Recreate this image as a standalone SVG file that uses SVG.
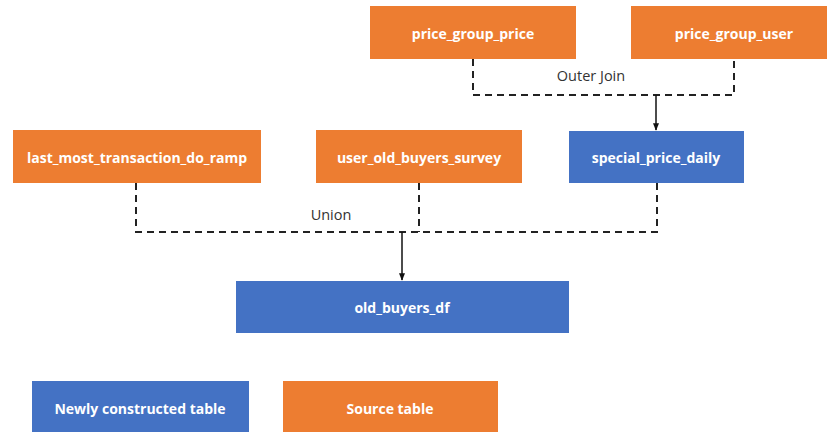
<svg xmlns="http://www.w3.org/2000/svg" width="827" height="432" viewBox="0 0 827 432">
  <style>
    .src { fill: #ED7D31; }
    .new { fill: #4472C4; }
    .lbl { font-family: "Open Sans", "DejaVu Sans", sans-serif; font-weight: 700; font-size: 14px; fill: #ffffff; text-anchor: middle; dominant-baseline: central; }
    .note { font-family: "Open Sans", "DejaVu Sans", sans-serif; font-size: 14.5px; fill: #333333; text-anchor: middle; dominant-baseline: central; }
    .dash { fill: none; stroke: #222222; stroke-width: 2; stroke-dasharray: 7 5; }
    .solid { fill: none; stroke: #111111; stroke-width: 1.5; }
  </style>
  <defs>
    <marker id="arrow" viewBox="0 0 10 10" refX="9" refY="5" markerWidth="5" markerHeight="5" orient="auto">
      <path d="M0,1 L10,5 L0,9 z" fill="#111111"/>
    </marker>
  </defs>
  <rect width="827" height="432" fill="#ffffff"/>

  <g id="connectors">
    <path class="dash" d="M473,59 V95 H734 V59"/>
    <path class="solid" d="M656,95 V130" marker-end="url(#arrow)"/>
    <text class="note" x="591" y="75">Outer Join</text>
    <path class="dash" d="M136,183 V232 H657 V183"/>
    <path class="dash" d="M419,183 V232"/>
    <path class="solid" d="M402,232 V280" marker-end="url(#arrow)"/>
    <text class="note" x="331" y="214">Union</text>
  </g>

  <g id="price_group_price">
    <rect class="src" x="370" y="6" width="206" height="53"/>
    <text class="lbl" x="473" y="33">price_group_price</text>
  </g>
  <g id="price_group_user">
    <rect class="src" x="631" y="6" width="196" height="53"/>
    <text class="lbl" x="734" y="33">price_group_user</text>
  </g>
  <g id="last_most_transaction_do_ramp">
    <rect class="src" x="13" y="130" width="248" height="53"/>
    <text class="lbl" x="137" y="157">last_most_transaction_do_ramp</text>
  </g>
  <g id="user_old_buyers_survey">
    <rect class="src" x="316" y="130" width="206" height="53"/>
    <text class="lbl" x="419" y="157">user_old_buyers_survey</text>
  </g>
  <g id="special_price_daily">
    <rect class="new" x="569" y="131" width="175" height="52"/>
    <text class="lbl" x="656" y="157">special_price_daily</text>
  </g>
  <g id="old_buyers_df">
    <rect class="new" x="236" y="281" width="333" height="52"/>
    <text class="lbl" x="402" y="307">old_buyers_df</text>
  </g>
  <g id="legend_new">
    <rect class="new" x="32" y="381" width="217" height="56"/>
    <text class="lbl" x="140" y="408">Newly constructed table</text>
  </g>
  <g id="legend_source">
    <rect class="src" x="283" y="381" width="215" height="56"/>
    <text class="lbl" x="390" y="408">Source table</text>
  </g>
</svg>
